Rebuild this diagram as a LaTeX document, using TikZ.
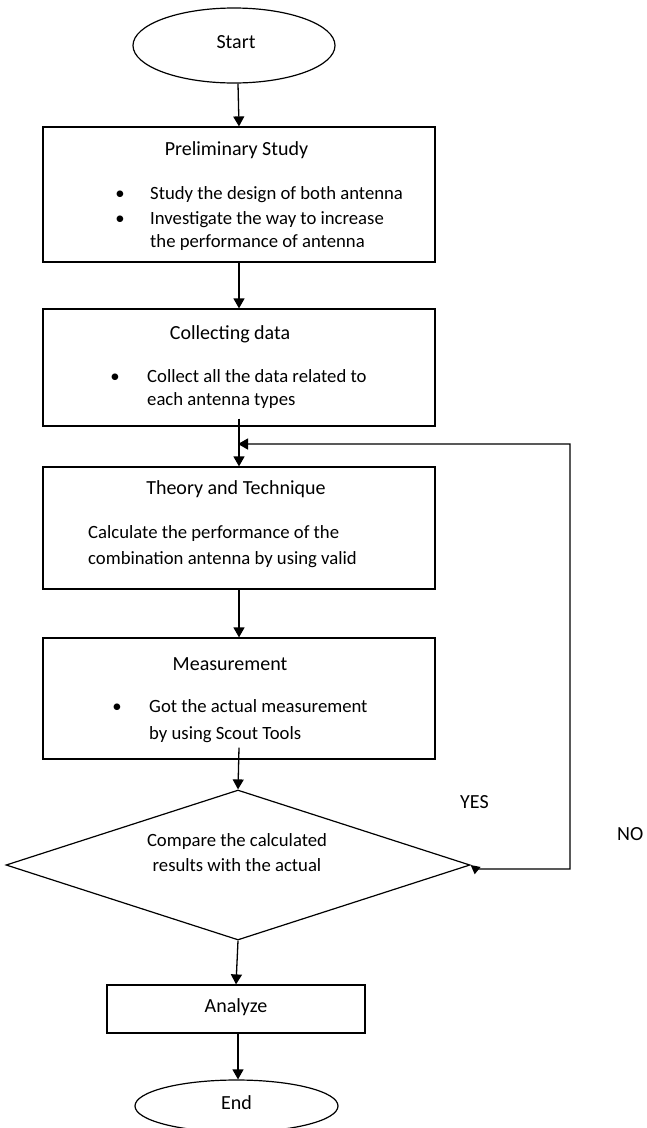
\documentclass[tikz,border=0pt]{standalone}
\usepackage{fontspec}
\setmainfont{Carlito}
\usetikzlibrary{shapes.geometric,arrows.meta}
\begin{document}
\begin{tikzpicture}[x=1pt,y=-1pt,
  font=\fontsize{18.7}{24}\selectfont,
  box/.style={draw,line width=1.2pt,minimum width=392pt,inner sep=0pt},
  oval/.style={draw,ellipse,line width=1.2pt,inner sep=0pt},
  txt/.style={inner sep=0pt,anchor=mid},
  ttl/.style={inner sep=0pt,anchor=mid,font=\fontsize{20}{24}\selectfont},
  ltxt/.style={inner sep=0pt,anchor=mid west},
  arr/.style={line width=1.3pt,-{Triangle[width=11pt,length=10pt]}},
  larr/.style={line width=1.3pt,{Triangle[width=9pt,length=9pt]}-{Triangle[width=11pt,length=10pt]}}
]
\useasboundingbox (0,0) rectangle (646,1128);
% start
\node[oval,minimum width=202pt,minimum height=75pt] (start) at (234,45.5) {};
\node[ttl] (starttxt) at (236,46) {Start};
% box 1
\node[box,minimum height=135pt] (b1) at (239,194.5) {};
\node[ttl] (t1) at (236.5,153) {Preliminary Study};
\node[txt] (u1a) at (120,197) {•};
\node[ltxt] (l1a) at (150,197) {Study the design of both antenna};
\node[txt] (u1b) at (120,222) {•};
\node[ltxt] (l1b) at (150,222) {Investigate the way to increase};
\node[ltxt] (l1c) at (150,245) {the performance of antenna};
% box 2
\node[box,minimum height=117pt] (b2) at (239,367.5) {};
\node[ttl] (t2) at (230,337) {Collecting data};
\node[txt] (u2a) at (115,380) {•};
\node[ltxt] (l2a) at (147,380) {Collect all the data related to};
\node[ltxt] (l2b) at (147,403) {each antenna types};
% box 3
\node[box,minimum height=122pt] (b3) at (239,528) {};
\node[ttl] (t3) at (236,492) {Theory and Technique};
\node[ltxt] (l3a) at (88,536) {Calculate the performance of the};
\node[ltxt] (l3b) at (88,562) {combination antenna by using valid};
% box 4
\node[box,minimum height=121pt] (b4) at (239,698.5) {};
\node[ttl] (t4) at (230,668) {Measurement};
\node[txt] (u4a) at (117,710) {•};
\node[ltxt] (l4a) at (149,710) {Got the actual measurement};
\node[ltxt] (l4b) at (149,737) {by using Scout Tools};
% decision
\node[draw,diamond,line width=1.2pt,aspect=3.09,minimum width=464pt,minimum height=150pt,inner sep=0pt] (d) at (238,865) {};
\node[txt,align=center,font=\fontsize{18.7}{25}\selectfont] (dt) at (237,869.5) {Compare the calculated\\results with the actual};
% analyze
\node[box,minimum width=258pt,minimum height=48pt] (an) at (236,1009) {};
\node[ttl] (ant) at (236,1010) {Analyze};
% end
\node[oval,minimum width=203pt,minimum height=52pt] (end) at (236.5,1106) {};
\node[ttl] (endt) at (236.5,1107) {End};
% labels
\node[ltxt,font=\fontsize{20}{24}\selectfont] (yes) at (460,806) {YES};
\node[ltxt,font=\fontsize{20}{24}\selectfont] (no) at (617,838) {NO};
% connectors
\draw[arr] (start.south -| 238,0) -- (b1.north);
\draw[arr] (b1.south) -- (b2.north);
\draw[arr] ([yshift=8pt]b2.south) -- (b3.north);
\draw[arr] (b3.south) -- (b4.north);
\draw[arr] ([yshift=12pt]b4.south) -- (d.north);
\draw[arr] (d.south) -- (an.north);
\draw[arr] (an.south -| 238,0) -- (end.north -| 238,0);
\coordinate (corner) at (570,444);
\coordinate (join) at (238,444);
\draw[larr] (d.east) -- ++(5,4) -| (corner) -- (join);
\end{tikzpicture}
\end{document}
